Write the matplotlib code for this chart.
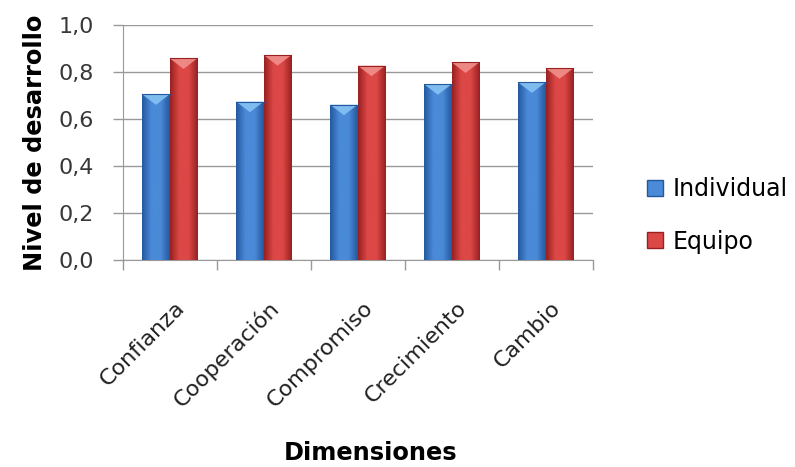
import numpy as np
import matplotlib
matplotlib.use("Agg")
import matplotlib.pyplot as plt
from matplotlib.patches import Polygon
from matplotlib.lines import Line2D

plt.rcParams['font.family'] = ['DejaVu Sans']

# datos
dimensiones = ['Confianza', 'Cooperación', 'Compromiso', 'Crecimiento', 'Cambio']
individual = [0.705, 0.674, 0.661, 0.748, 0.756]
equipo = [0.858, 0.872, 0.827, 0.841, 0.816]
y_ticks = [0.0, 0.2, 0.4, 0.6, 0.8, 1.0]
y_ticklabels = ['0,0', '0,2', '0,4', '0,6', '0,8', '1,0']

# colores (claro, oscuro, triangulo)
azul = ('#4a8ad8', '#24589e', '#86c2f2')
rojo = ('#dc4846', '#982020', '#f0908c')

fig = plt.figure(figsize=(7.95, 4.67), dpi=100)
ax = fig.add_axes([0.1544, 0.4433, 0.5911, 0.5032])

w = 0.294
x = np.arange(len(dimensiones))


def barra_gradiente(ax, xc, h, colores):
    claro, oscuro, tri = colores
    bar = ax.bar(xc, h, width=w, color='none', edgecolor='none', zorder=3)[0]
    cmap = matplotlib.colors.LinearSegmentedColormap.from_list(
        'g', [oscuro, claro, claro, oscuro], N=256)
    grad = np.linspace(0, 1, 100).reshape(1, -1)
    im = ax.imshow(grad, cmap=cmap, aspect='auto', zorder=3,
                   extent=[xc - w / 2, xc + w / 2, 0, h], interpolation='bicubic')
    im.set_clip_path(bar)
    # triangulo de brillo arriba
    th = 0.045
    ax.add_patch(Polygon([[xc - w / 2, h], [xc + w / 2, h], [xc, h - th]],
                         closed=True, facecolor=tri, edgecolor='none', alpha=0.9, zorder=4))
    ax.plot([xc - w / 2, xc + w / 2], [h, h], color=oscuro, lw=0.8, zorder=5)


for i in range(len(dimensiones)):
    barra_gradiente(ax, x[i] - w / 2, individual[i], azul)
    barra_gradiente(ax, x[i] + w / 2, equipo[i], rojo)

ax.set_xlim(-0.5, len(dimensiones) - 0.5)
ax.set_ylim(0, 1.0)
ax.set_yticks(y_ticks)
ax.set_yticklabels(y_ticklabels, fontsize=16, color='#383838')
ax.set_xticks(np.arange(-0.5, len(dimensiones), 1.0))
ax.set_xticklabels([])
ax.set_xticks(x + 0.05, minor=True)
ax.set_xticklabels(dimensiones, minor=True, rotation=45, ha='right',
                   rotation_mode='anchor', fontsize=16, color='#202020')
ax.tick_params(axis='x', which='minor', length=0, pad=27)
ax.tick_params(axis='x', which='major', length=7, color='#999999', width=1)
ax.tick_params(axis='y', length=7, color='#999999', width=1, pad=14)

ax.grid(axis='y', color='#999999', lw=1, zorder=0)
ax.set_axisbelow(True)
for s in ['top', 'right']:
    ax.spines[s].set_visible(False)
ax.spines['left'].set_color('#999999')
ax.spines['bottom'].set_color('#999999')

ax.set_ylabel('Nivel de desarrollo', fontsize=17.4, fontweight='bold', labelpad=8)
fig.text(0.466, 0.004, 'Dimensiones', fontsize=17.4, fontweight='bold', ha='center',
         va='bottom')

handles = [Line2D([], [], marker='s', ls='none', markersize=11.5, markerfacecolor=azul[0],
                  markeredgecolor=azul[1]),
           Line2D([], [], marker='s', ls='none', markersize=11.5, markerfacecolor=rojo[0],
                  markeredgecolor=rojo[1])]
fig.legend(handles, ['Individual', 'Equipo'], loc='center left',
           bbox_to_anchor=(0.809, 0.5385), frameon=False, fontsize=17,
           labelspacing=1.2, handletextpad=0.23, handlelength=1.0,
           borderpad=0, borderaxespad=0)

fig.savefig('out.png', dpi=100)
